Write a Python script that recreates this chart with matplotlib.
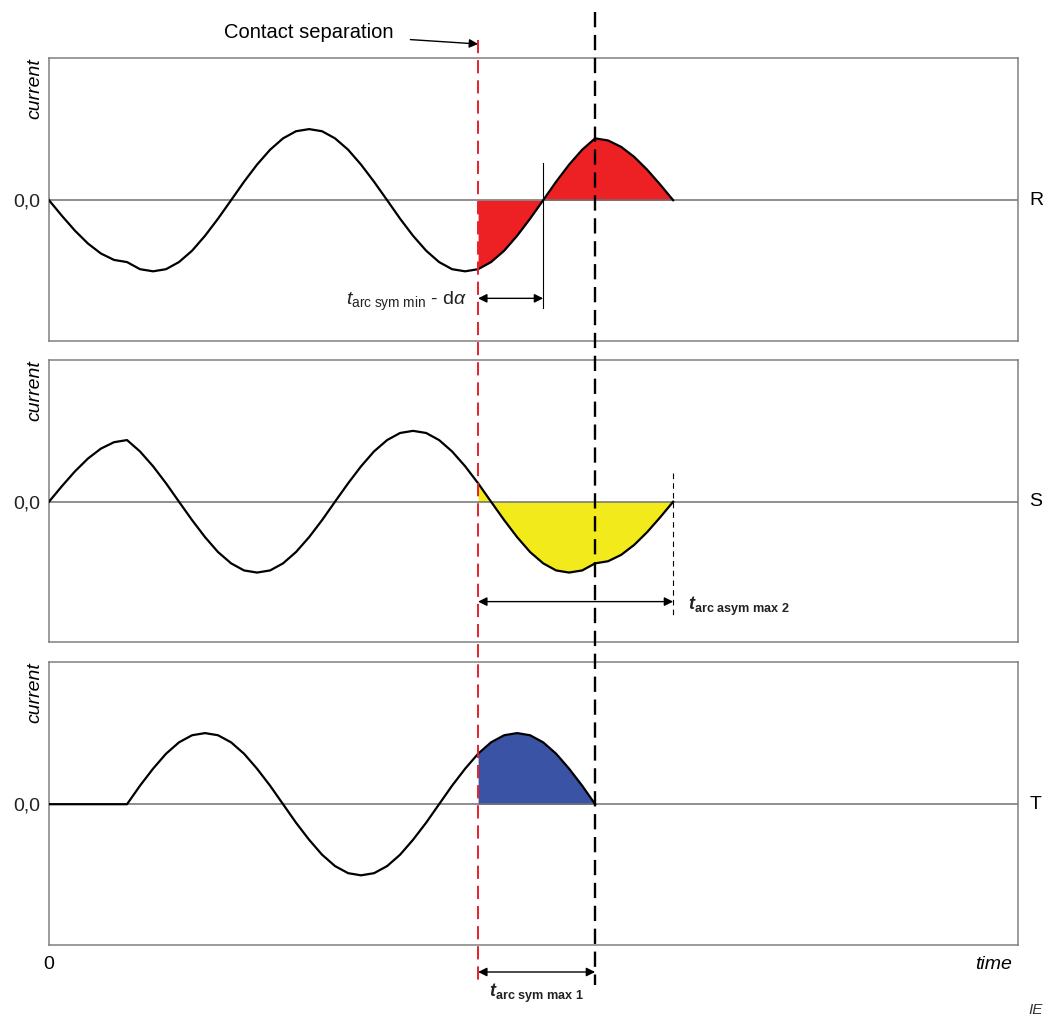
import matplotlib.pyplot as plt
from matplotlib.lines import Line2D
from matplotlib import transforms

plt.rcParams['font.family'] = ['Liberation Sans', 'DejaVu Sans']
plt.rcParams['mathtext.fontset'] = 'custom'
plt.rcParams['mathtext.rm'] = 'Liberation Sans'
plt.rcParams['mathtext.it'] = 'Liberation Sans:italic'
plt.rcParams['mathtext.bf'] = 'Liberation Sans:bold'
plt.rcParams['mathtext.bfit'] = 'Liberation Sans:italic:bold'
plt.rcParams['lines.scale_dashes'] = False

# tiempo (ms) y corrientes por fase (p.u.)
time_ms = [0.0, 0.83, 1.67, 2.5, 3.33, 4.17, 5.0, 5.83, 6.67, 7.5, 8.33, 9.17,
           10.0, 10.83, 11.67, 12.5, 13.33, 14.17, 15.0, 15.83, 16.67, 17.5,
           18.33, 19.17, 20.0, 20.83, 21.67, 22.5, 23.33, 24.17, 25.0, 25.83,
           26.67, 27.5, 28.33, 29.17, 30.0, 30.83, 31.67, 32.5, 33.33, 34.17,
           35.0, 35.83, 36.67, 37.5, 38.33, 39.17, 40.0]

current_r = [0.0, -0.22, -0.43, -0.61, -0.75, -0.84, -0.87,
             -0.97, -1.0, -0.97, -0.87, -0.71, -0.5, -0.26,
             0.0, 0.26, 0.5, 0.71, 0.87, 0.97, 1.0,
             0.97, 0.87, 0.71, 0.5, 0.26, 0.0, -0.26,
             -0.5, -0.71, -0.87, -0.97, -1.0, -0.97, -0.87,
             -0.71, -0.5, -0.26, 0.0, 0.26, 0.5, 0.71,
             0.87, 0.84, 0.75, 0.61, 0.43, 0.22, 0.0]

current_s = [0.0, 0.22, 0.43, 0.61, 0.75, 0.84, 0.87,
             0.71, 0.5, 0.26, 0.0, -0.26, -0.5, -0.71,
             -0.87, -0.97, -1.0, -0.97, -0.87, -0.71, -0.5,
             -0.26, 0.0, 0.26, 0.5, 0.71, 0.87, 0.97,
             1.0, 0.97, 0.87, 0.71, 0.5, 0.26, 0.0,
             -0.26, -0.5, -0.71, -0.87, -0.97, -1.0, -0.97,
             -0.87, -0.84, -0.75, -0.61, -0.43, -0.22, 0.0]

current_t = [0.0, 0.0, 0.0, 0.0, 0.0, 0.0, 0.0,
             0.26, 0.5, 0.71, 0.87, 0.97, 1.0, 0.97,
             0.87, 0.71, 0.5, 0.26, 0.0, -0.26, -0.5,
             -0.71, -0.87, -0.97, -1.0, -0.97, -0.87, -0.71,
             -0.5, -0.26, 0.0, 0.26, 0.5, 0.71, 0.87,
             0.97, 1.0, 0.97, 0.87, 0.71, 0.5, 0.26,
             0.0]

phases = ['R', 'S', 'T']
fill_colors = ['#ed2024', '#f2ea1a', '#3a53a4']

t_sep = 27.5      # separacion de contactos
t_zero_r = 31.67  # paso por cero de R tras la separacion
t_end_t = 35.0    # extincion fase T
t_end_rs = 40.0   # extincion fases R y S
i_sep = time_ms.index(t_sep)

W, H = 1044, 1016
fig = plt.figure(figsize=(W / 100, H / 100), dpi=100)


def panel(y0, y1):
    return fig.add_axes([49 / W, 1 - y1 / H, 969 / W, (y1 - y0) / H])


axes = [panel(58, 341), panel(360, 642), panel(662, 945)]
currents = [current_r, current_s, current_t]

for ax, cur, name, col in zip(axes, currents, phases, fill_colors):
    tt = time_ms[:len(cur)]
    ax.fill_between(tt[i_sep:], cur[i_sep:], 0, color=col, lw=0, zorder=1)
    ax.axhline(0, color='#707070', lw=1.1, zorder=2)
    ax.plot(tt, cur, color='black', lw=1.6, zorder=3)
    ax.set_xlim(0, 62.1)
    ax.set_ylim(-1.98, 2.0)
    ax.set_xticks([])
    ax.set_yticks([0])
    ax.set_yticklabels(['0,0'], fontsize=14, color='#222222')
    ax.tick_params(axis='y', length=0, pad=6)
    for sp in ax.spines.values():
        sp.set_color('#808080')
        sp.set_linewidth(1.1)
    ax.text(-0.0145, 1.0, 'current', transform=ax.transAxes, rotation=90,
            ha='center', va='top', style='italic', fontsize=14)
    ax.text(1.0186, 0, name, transform=ax.get_yaxis_transform(),
            ha='center', va='center', fontsize=14)

ax1, ax2, ax3 = axes
arrow = dict(arrowstyle='<|-|>', color='black', lw=1, shrinkA=0, shrinkB=0,
             mutation_scale=13)

# panel R: t arc sym min - d alpha
ax1.plot([t_zero_r, t_zero_r], [0.52, -1.52], color='black', lw=0.8)
ax1.annotate('', xy=(t_sep, -1.38), xytext=(t_zero_r, -1.38), arrowprops=arrow)
ax1.text(t_sep - 0.7, -1.42, r'$t_{\mathrm{arc\ sym\ min}}$ - d$\alpha$',
         ha='right', va='center', fontsize=14, color='#222222')

# panel S: t arc asym max 2
ax2.plot([t_end_rs, t_end_rs], [0.41, -1.63], color='black', lw=0.8,
         dashes=(4, 3))
ax2.annotate('', xy=(t_end_rs, -1.41), xytext=(t_sep, -1.41), arrowprops=arrow)
ax2.text(t_end_rs + 0.95, -1.48, r'$\mathbfit{t}_{\mathbf{arc\ asym\ max\ 2}}$',
         ha='left', va='center', fontsize=13, color='#222222')

# debajo: t arc sym max 1
y_arr = 1 - 972 / H
ax3.annotate('', xy=(t_sep, y_arr), xycoords=('data', 'figure fraction'),
             xytext=(t_end_t, y_arr), textcoords=('data', 'figure fraction'),
             arrowprops=arrow)
ax3.annotate(r'$\mathbfit{t}_{\mathbf{arc\ sym\ max\ 1}}$',
             xy=((t_sep + t_end_t) / 2, 1 - 993 / H),
             xycoords=('data', 'figure fraction'),
             ha='center', va='center', fontsize=13, color='#222222')

ax3.text(0, -0.07, '0', transform=ax3.transAxes, ha='center', va='center',
         fontsize=14)
ax3.text(0.9938, -0.07, 'time', transform=ax3.transAxes, ha='right',
         va='center', fontsize=14, style='italic')

# lineas verticales que cruzan los tres paneles
trans = transforms.blended_transform_factory(ax3.transData, fig.transFigure)
fig.add_artist(Line2D([t_sep, t_sep], [1 - 40 / H, 1 - 982 / H], transform=trans,
                      color='#e8202a', lw=1.4, dashes=(9.5, 5)))
fig.add_artist(Line2D([t_end_t, t_end_t], [1 - 12 / H, 1 - 985 / H],
                      transform=trans, color='black', lw=1.7, dashes=(11, 5.5)))

ax1.annotate('Contact separation', xy=(t_sep, 1 - 44 / H),
             xycoords=('data', 'figure fraction'),
             xytext=(309 / W, 1 - 33 / H), textcoords='figure fraction',
             ha='center', va='center', fontsize=14.5,
             arrowprops=dict(arrowstyle='-|>', color='black', lw=1,
                             shrinkA=10, shrinkB=0, mutation_scale=13))

fig.text(1028 / W, 1 - 1010 / H, 'IE', style='italic', fontsize=11,
         ha='left', va='center', color='#333333')

fig.savefig('out.png', dpi=100)
